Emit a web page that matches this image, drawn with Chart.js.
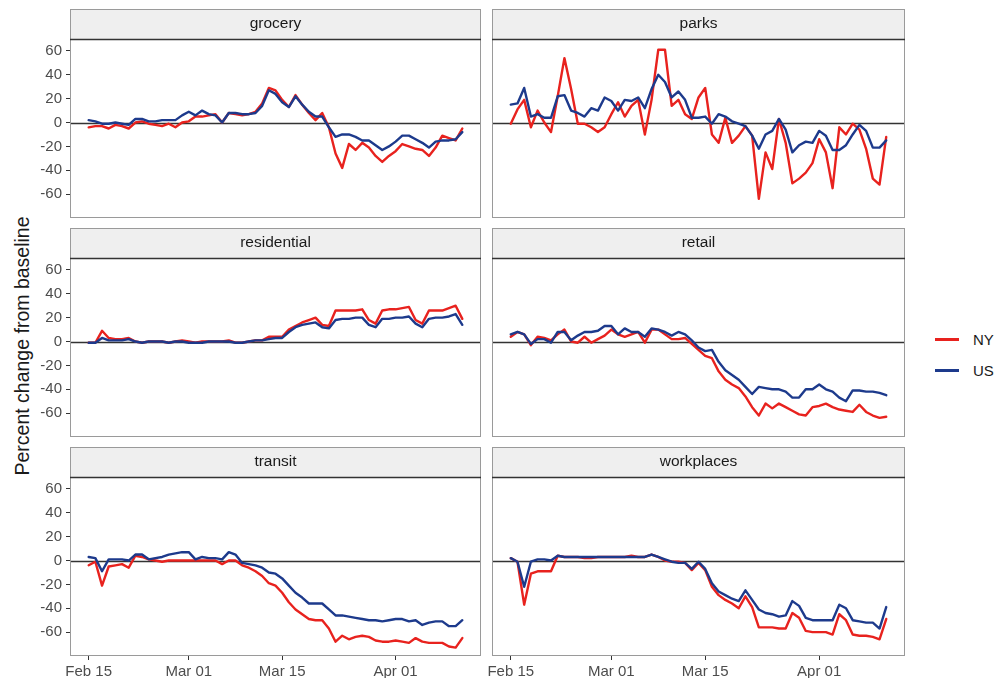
<!DOCTYPE html>
<html>
<head>
<meta charset="utf-8">
<script src="https://cdn.jsdelivr.net/npm/chart.js@4.4.1/dist/chart.umd.min.js"></script>
<style>
  body { margin: 0; width: 1007px; height: 678px; overflow: hidden; background: #fff;
         font-family: "Liberation Sans", Arial, sans-serif; position: relative; }
  canvas { position: absolute; }
  #ytitle { position: absolute; left: 22px; top: 346px; transform: translate(-50%, -50%) rotate(-90deg);
            font-size: 19.5px; color: #1a1a1a; white-space: nowrap; }
  .key { position: absolute; left: 935px; width: 24px; height: 3px; }
  .keytext { position: absolute; left: 973px; font-size: 15px; color: #1a1a1a; line-height: 18px; }
</style>
</head>
<body>
<div id="ytitle">Percent change from baseline</div>
<div class="key" style="top:338px;background:#e8221e"></div>
<div class="keytext" style="top:331px">NY</div>
<div class="key" style="top:369px;background:#1d3a8c"></div>
<div class="keytext" style="top:362px">US</div>

<script>
// daily values, Feb 15 .. Apr 11 (day 0 .. 56)
const days = Array.from({ length: 57 }, (_, i) => i);
const tickDays = [0, 15, 29, 46];
const tickLabels = ["Feb 15", "Mar 01", "Mar 15", "Apr 01"];
const yTicks = [-60, -40, -20, 0, 20, 40, 60];

const groceryNY = [-4, -3, -3, -5, -2, -3, -5, 0, 1, -1, -2, -3, -1, -4, 0, 1, 5, 5, 6, 7,
  0, 8, 7, 6, 7, 9, 16, 29, 27, 19, 13, 23, 15, 8, 2, 8, -4, -26, -38, -18,
  -23, -17, -21, -28, -33, -28, -24, -18, -20, -22, -23, -28, -21, -11, -13, -15, -5];
const groceryUS = [2, 1, -1, -1, 0, -1, -2, 3, 3, 1, 1, 2, 2, 2, 6, 9, 6, 10, 7, 6,
  0, 8, 8, 7, 7, 8, 14, 27, 24, 17, 13, 22, 15, 9, 5, 5, -4, -12, -10, -10,
  -12, -15, -15, -19, -23, -20, -16, -11, -11, -14, -17, -21, -16, -15, -15, -14, -8];

const parksNY = [-1, 11, 19, -4, 10, 0, -8, 22, 54, 28, -1, -1, -4, -8, -4, 7, 17, 5, 14, 19,
  -10, 19, 61, 61, 14, 19, 7, 3, 21, 29, -10, -17, 4, -17, -11, -3, -11, -64, -25, -39,
  3, -17, -51, -47, -42, -34, -14, -25, -55, -4, -10, -1, -6, -22, -47, -52, -12];
const parksUS = [15, 16, 29, 5, 7, 4, 4, 22, 23, 10, 8, 5, 12, 10, 21, 18, 10, 19, 18, 21,
  12, 28, 40, 34, 21, 26, 19, 4, 4, 5, -1, 7, 5, 1, -1, -3, -11, -22, -10, -7,
  3, -6, -25, -19, -16, -17, -7, -11, -23, -23, -19, -10, -2, -7, -21, -21, -15];

const residentialNY = [-1, -1, 9, 3, 2, 2, 3, 0, -1, 0, 0, 0, -1, 0, 1, 0, -1, 0, 0, 0,
  0, 1, -1, -1, 0, 1, 1, 4, 4, 4, 10, 13, 16, 18, 20, 14, 13, 26, 26, 26,
  26, 27, 18, 15, 26, 27, 27, 28, 29, 18, 15, 26, 26, 26, 28, 30, 19];
const residentialUS = [-1, -1, 3, 1, 1, 1, 2, 0, -1, 0, 0, 0, -1, 0, 0, -1, -1, -1, 0, 0,
  0, 0, -1, -1, 0, 1, 1, 2, 3, 3, 8, 12, 14, 15, 16, 12, 11, 18, 19, 19,
  20, 20, 14, 12, 19, 19, 20, 20, 21, 15, 12, 19, 20, 20, 21, 23, 14];

const retailNY = [4, 8, 6, -3, 4, 3, 1, 6, 10, 0, -1, 4, -1, 2, 5, 10, 6, 4, 6, 8,
  -1, 10, 10, 6, 2, 2, 3, -2, -7, -12, -14, -25, -32, -36, -39, -46, -55, -62, -52, -56,
  -52, -55, -58, -61, -62, -55, -54, -52, -55, -57, -58, -59, -53, -59, -62, -64, -63];
const retailUS = [6, 8, 6, -2, 2, 2, -1, 8, 8, 1, 5, 8, 8, 9, 13, 13, 6, 11, 8, 8,
  4, 11, 10, 8, 5, 8, 6, 1, -5, -8, -7, -17, -24, -28, -32, -38, -44, -38, -39, -40,
  -40, -42, -47, -47, -40, -40, -36, -40, -42, -47, -50, -41, -41, -42, -42, -43, -45];

const transitNY = [-4, -1, -21, -5, -4, -3, -6, 4, 3, 1, 0, -1, 0, 0, 0, 0, 0, 0, 0, 0,
  -3, 0, 0, -4, -6, -9, -13, -19, -21, -27, -35, -41, -45, -49, -50, -50, -57, -68, -63, -66,
  -64, -63, -64, -67, -68, -68, -67, -68, -69, -65, -68, -69, -69, -69, -72, -73, -65];
const transitUS = [3, 2, -9, 1, 1, 1, 0, 5, 5, 1, 2, 3, 5, 6, 7, 7, 1, 3, 2, 2,
  1, 7, 5, -2, -3, -4, -6, -10, -11, -15, -21, -27, -31, -36, -36, -36, -41, -46, -46, -47,
  -48, -49, -50, -50, -51, -50, -49, -49, -51, -50, -54, -52, -51, -51, -55, -55, -50];

const workplacesNY = [2, -1, -37, -11, -9, -9, -9, 4, 3, 3, 3, 2, 2, 3, 3, 3, 3, 3, 4, 3,
  3, 5, 3, 0, -1, -1, -2, -8, -2, -8, -22, -29, -33, -36, -40, -30, -39, -56, -56, -56,
  -57, -57, -44, -48, -59, -60, -60, -60, -62, -45, -50, -62, -63, -63, -64, -66, -49];
const workplacesUS = [2, -1, -22, -1, 1, 1, 0, 4, 3, 3, 3, 3, 3, 3, 3, 3, 3, 3, 3, 3,
  3, 5, 3, 1, -1, -2, -2, -7, -1, -7, -19, -26, -29, -32, -34, -25, -33, -41, -44, -45,
  -47, -46, -34, -38, -48, -50, -50, -50, -50, -37, -40, -50, -51, -52, -52, -57, -39];

const panels = [
  { name: "grocery", ny: groceryNY, us: groceryUS },
  { name: "parks", ny: parksNY, us: parksUS },
  { name: "residential", ny: residentialNY, us: residentialUS },
  { name: "retail", ny: retailNY, us: retailUS },
  { name: "transit", ny: transitNY, us: transitUS },
  { name: "workplaces", ny: workplacesNY, us: workplacesUS }
];

const RED = "#e8221e";
const BLUE = "#1d3a8c";
const FONT = "'Liberation Sans', Arial, sans-serif";
const STRIP_H = 30;

// grey facet strip, panel border and the zero reference line
const facet = {
  id: "facet",
  beforeDatasetsDraw(chart) {
    const { ctx, chartArea: a } = chart;
    const y0 = Math.round(chart.scales.y.getPixelForValue(0)) + 0.5;
    ctx.save();
    ctx.strokeStyle = "#333";
    ctx.lineWidth = 1.3;
    ctx.beginPath();
    ctx.moveTo(a.left, y0);
    ctx.lineTo(a.right, y0);
    ctx.stroke();
    ctx.restore();
  },
  afterDraw(chart) {
    const { ctx, chartArea: a } = chart;
    const title = chart.options.plugins.facet.title;
    ctx.save();
    ctx.fillStyle = "#efefef";
    ctx.fillRect(a.left, a.top - STRIP_H, a.width, STRIP_H);
    ctx.strokeStyle = "#9a9a9a";
    ctx.lineWidth = 1;
    ctx.strokeRect(a.left + 0.5, a.top - STRIP_H + 0.5, a.width - 1, STRIP_H);
    ctx.strokeRect(a.left + 0.5, a.top + 0.5, a.width - 1, a.height - 1);
    ctx.strokeStyle = "#333";
    ctx.lineWidth = 1.4;
    ctx.beginPath();
    ctx.moveTo(a.left, a.top + 0.5);
    ctx.lineTo(a.right, a.top + 0.5);
    ctx.stroke();
    ctx.fillStyle = "#1a1a1a";
    ctx.font = "15.5px " + FONT;
    ctx.textAlign = "center";
    ctx.textBaseline = "middle";
    ctx.fillText(title, (a.left + a.right) / 2, a.top - STRIP_H / 2);
    ctx.restore();
  }
};

// canvas box per column; the right one starts early so its first date label has room
const colX = [{ left: 20, width: 462, padLeft: 0 }, { left: 471, width: 435, padLeft: 21 }];
const rowTop = [39, 258, 477];

panels.forEach((p, i) => {
  const col = i % 2, row = Math.floor(i / 2);
  const bottomRow = row === 2;
  const leftCol = col === 0;
  const canvas = document.createElement("canvas");
  canvas.width = colX[col].width;
  canvas.height = 31 + 179 + (bottomRow ? 30 : 1);
  canvas.style.left = colX[col].left + "px";
  canvas.style.top = (rowTop[row] - 31) + "px";
  document.body.appendChild(canvas);

  new Chart(canvas, {
    type: "line",
    data: {
      datasets: [
        { label: "US", data: days.map(d => ({ x: d, y: p.us[d] })), borderColor: BLUE, order: 1 },
        { label: "NY", data: days.map(d => ({ x: d, y: p.ny[d] })), borderColor: RED, order: 2 }
      ]
    },
    options: {
      responsive: false,
      animation: false,
      events: [],
      layout: { padding: { left: colX[col].padLeft, right: 1, top: 31, bottom: bottomRow ? 0 : 1 } },
      elements: {
        point: { radius: 0 },
        line: { borderWidth: 2.4, tension: 0, borderJoinStyle: "round", borderCapStyle: "round" }
      },
      plugins: {
        legend: { display: false },
        tooltip: { enabled: false },
        facet: { title: p.name }
      },
      scales: {
        x: {
          type: "linear",
          min: -2.8,
          max: 58.8,
          display: bottomRow,
          afterBuildTicks: s => { s.ticks = tickDays.map(v => ({ value: v })); },
          afterFit: s => {
            s.height = bottomRow ? 30 : 0;
            s.paddingLeft = 0;
            s.paddingRight = 0;
          },
          border: { display: false },
          grid: { drawOnChartArea: false, drawTicks: true, tickLength: 4, color: "#333" },
          ticks: {
            autoSkip: false, maxRotation: 0, padding: 3, color: "#4d4d4d",
            font: { size: 15, family: FONT },
            callback: v => tickLabels[tickDays.indexOf(v)]
          }
        },
        y: {
          min: -80,
          max: 70,
          display: leftCol,
          afterBuildTicks: s => { s.ticks = yTicks.map(v => ({ value: v })); },
          afterFit: s => {
            s.width = leftCol ? 50 : 0;
            s.paddingTop = 0;
            s.paddingBottom = 0;
          },
          border: { display: false },
          grid: { drawOnChartArea: false, drawTicks: true, tickLength: 4, color: "#333" },
          ticks: { padding: 4, color: "#4d4d4d", font: { size: 15, family: FONT } }
        }
      }
    },
    plugins: [facet]
  });
});
</script>
</body>
</html>
